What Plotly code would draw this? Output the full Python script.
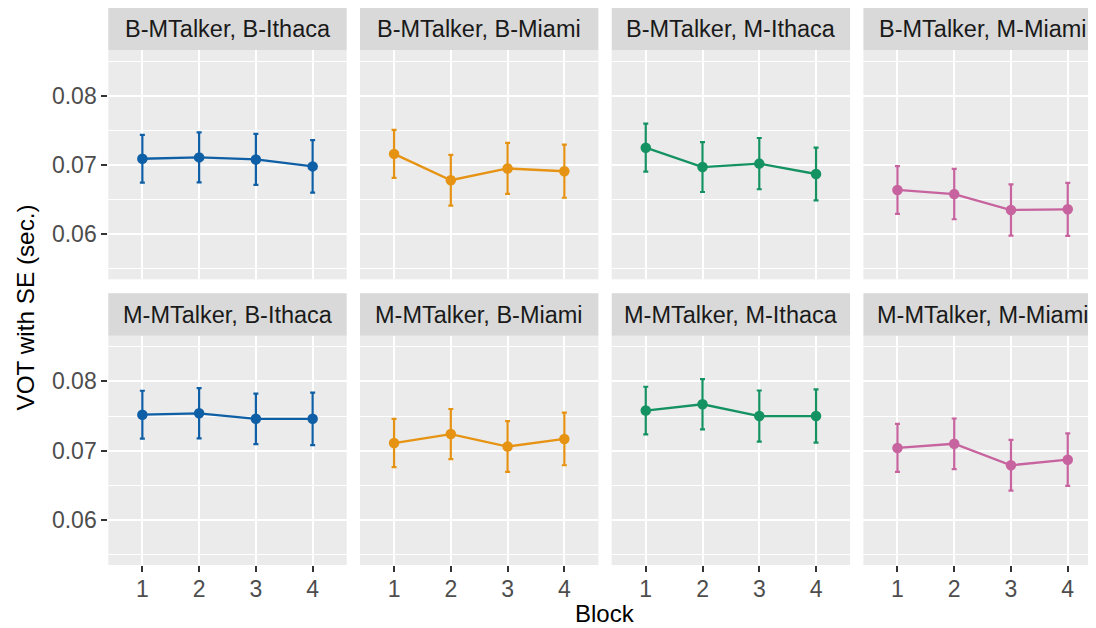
import plotly.graph_objects as go

blocks = [1, 2, 3, 4]
panel_titles = [
    "B-MTalker, B-Ithaca", "B-MTalker, B-Miami", "B-MTalker, M-Ithaca", "B-MTalker, M-Miami",
    "M-MTalker, B-Ithaca", "M-MTalker, B-Miami", "M-MTalker, M-Ithaca", "M-MTalker, M-Miami",
]

# mean VOT (sec.) per block
mean_b_bith = [0.0709, 0.0711, 0.0708, 0.0698]
mean_b_bmia = [0.0716, 0.0678, 0.0695, 0.0691]
mean_b_mith = [0.0725, 0.0697, 0.0702, 0.0687]
mean_b_mmia = [0.0664, 0.0658, 0.0635, 0.0636]
mean_m_bith = [0.0752, 0.0754, 0.0746, 0.0746]
mean_m_bmia = [0.0711, 0.0724, 0.0706, 0.0717]
mean_m_mith = [0.0758, 0.0767, 0.0750, 0.0750]
mean_m_mmia = [0.0704, 0.0710, 0.0679, 0.0687]

# standard errors per block
se_b_bith = [0.00345, 0.00360, 0.00368, 0.00380]
se_b_bmia = [0.00346, 0.00366, 0.00368, 0.00383]
se_b_mith = [0.00347, 0.00360, 0.00370, 0.00382]
se_b_mmia = [0.00345, 0.00363, 0.00370, 0.00383]
se_m_bith = [0.00345, 0.00362, 0.00365, 0.00379]
se_m_bmia = [0.00348, 0.00362, 0.00367, 0.00380]
se_m_mith = [0.00343, 0.00362, 0.00369, 0.00384]
se_m_mmia = [0.00346, 0.00365, 0.00367, 0.00379]

means = [mean_b_bith, mean_b_bmia, mean_b_mith, mean_b_mmia,
         mean_m_bith, mean_m_bmia, mean_m_mith, mean_m_mmia]
ses = [se_b_bith, se_b_bmia, se_b_mith, se_b_mmia,
       se_m_bith, se_m_bmia, se_m_mith, se_m_mmia]

y_ticks = [0.06, 0.07, 0.08]
y_tick_labels = ["0.06", "0.07", "0.08"]

colors = ["#0E5FA6", "#E69313", "#159262", "#C7639E"]

# page body has an 8px margin; lay out in screen pixels and shift
OFF = 8
SW, SH = 1096, 628
W, H = SW - OFF, SH - OFF
col_w = 238.4
col_starts = [108.3, 360.0, 611.7, 863.4]
row_panel = [(50.0, 279.3), (335.7, 565.0)]
row_strip = [(7.3, 50.0), (293.3, 335.7)]
y_range = [0.0535, 0.0866]


def px(v):
    return (v - OFF) / W


def py(v):
    return 1 - (v - OFF) / H


FONT = "Liberation Sans, Arial, Helvetica, sans-serif"

fig = go.Figure()
layout = dict(
    width=W, height=H,
    margin=dict(l=0, r=0, t=0, b=0),
    paper_bgcolor="white",
    plot_bgcolor="#EBEBEB",
    showlegend=False,
    font=dict(family=FONT, color="#4D4D4D"),
    shapes=[], annotations=[],
)

for i in range(8):
    r, c = divmod(i, 4)
    idx = i + 1
    xa = "xaxis" if idx == 1 else f"xaxis{idx}"
    ya = "yaxis" if idx == 1 else f"yaxis{idx}"
    xref = "x" if idx == 1 else f"x{idx}"
    yref = "y" if idx == 1 else f"y{idx}"
    x0 = col_starts[c]
    x1 = min(x0 + col_w, SW)
    xr_hi = 0.4 + 4.2 * (x1 - x0) / col_w
    p0, p1 = row_panel[r]
    layout[xa] = dict(
        domain=[px(x0), px(x1)], anchor=yref, range=[0.4, xr_hi],
        tickvals=blocks, ticktext=[str(b) for b in blocks],
        showgrid=True, gridcolor="white", gridwidth=2.2, zeroline=False, showline=False,
        ticks="outside" if r == 1 else "", ticklen=6, tickwidth=2, tickcolor="#333333",
        showticklabels=(r == 1), tickfont=dict(size=23, color="#4D4D4D", family=FONT),
        ticklabelstandoff=-3,
    )
    layout[ya] = dict(
        domain=[py(p1), py(p0)], anchor=xref, range=y_range,
        tickvals=y_ticks, ticktext=y_tick_labels,
        showgrid=True, gridcolor="white", gridwidth=2.2, zeroline=False, showline=False,
        minor=dict(tick0=0.055, dtick=0.01, showgrid=True, gridcolor="white", gridwidth=1.1),
        ticks="outside" if c == 0 else "", ticklen=6, tickwidth=2, tickcolor="#333333",
        showticklabels=(c == 0), tickfont=dict(size=23, color="#4D4D4D", family=FONT),
    )
    fig.add_trace(go.Scatter(
        x=blocks, y=means[i], xaxis=xref, yaxis=yref, mode="lines+markers",
        line=dict(color=colors[c], width=2.3),
        marker=dict(color=colors[c], size=10.5),
        error_y=dict(type="data", array=ses[i], visible=True, color=colors[c], thickness=2.2, width=2.5),
        hoverinfo="skip",
    ))
    s0, s1 = row_strip[r]
    layout["shapes"].append(dict(
        type="rect", xref="paper", yref="paper", x0=px(x0), x1=px(x1),
        y0=py(s1), y1=py(s0), fillcolor="#D9D9D9", line=dict(width=0), layer="below",
    ))
    layout["annotations"].append(dict(
        text=panel_titles[i], xref="paper", yref="paper",
        x=px(x0 + col_w / 2), y=py((s0 + s1) / 2), xanchor="center", yanchor="middle",
        showarrow=False, font=dict(size=23.5, color="#1A1A1A", family=FONT),
    ))

layout["annotations"].append(dict(
    text="VOT with SE (sec.)", xref="paper", yref="paper", x=px(25), y=py(307.5),
    xanchor="center", yanchor="middle", textangle=-90, showarrow=False,
    font=dict(size=24.3, color="#000000", family=FONT),
))
layout["annotations"].append(dict(
    text="Block", xref="paper", yref="paper", x=px(605), y=py(628),
    xanchor="center", yanchor="bottom", showarrow=False, borderpad=0,
    font=dict(size=24, color="#000000", family=FONT),
))

fig.update_layout(**layout)
fig.write_html("out.html")
